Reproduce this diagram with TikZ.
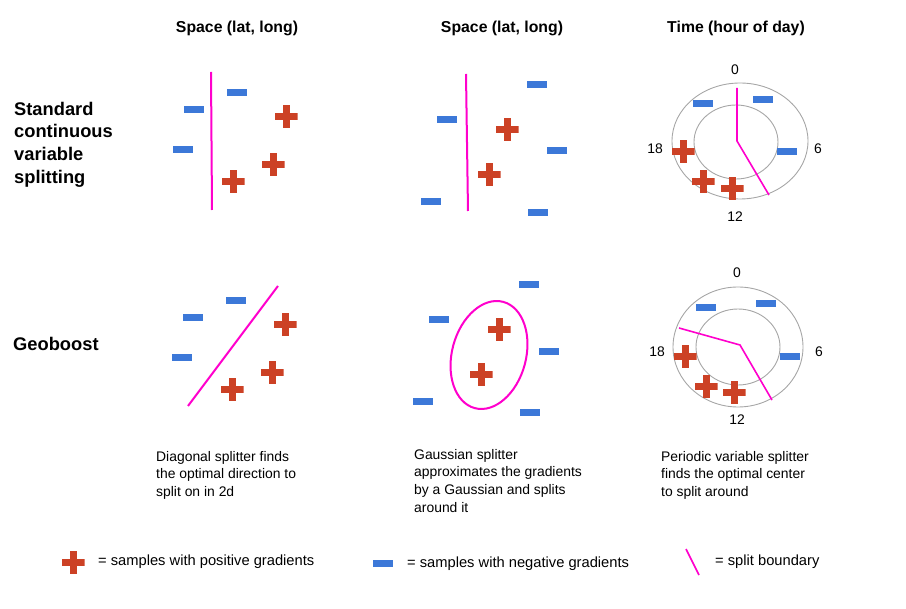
\documentclass[tikz,border=0pt]{standalone}
\usepackage{fontspec}
\setmainfont{Liberation Sans}
\definecolor{posred}{HTML}{CC4125}
\definecolor{negblue}{HTML}{3C78D8}
\definecolor{cutpink}{HTML}{FF00CC}
\definecolor{dialgray}{HTML}{A6A6A6}
\tikzset{
  possample/.style={minimum size=23pt, inner sep=0pt,
    path picture={\fill[posred] ([yshift=-3.5pt]path picture bounding box.west) rectangle ([yshift=3.5pt]path picture bounding box.east);
      \fill[posred] ([xshift=-3.5pt]path picture bounding box.south) rectangle ([xshift=3.5pt]path picture bounding box.north);}},
  negsample/.style={fill=negblue, minimum width=20pt, minimum height=7pt, inner sep=0pt},
  cut/.style={draw=cutpink, line width=2pt},
  dial/.style={draw=dialgray, line width=0.9pt},
  head/.style={font=\bfseries\fontsize{15.8}{19}\selectfont},
  rowlab/.style={font=\bfseries\fontsize{18.3}{22.6}\selectfont, align=left, anchor=west, inner sep=0pt},
  note/.style={font=\fontsize{13.9}{17.7}\selectfont, align=left, anchor=north west, inner sep=0pt},
  keytext/.style={font=\fontsize{14.7}{17}\selectfont, anchor=west, inner sep=0pt},
  hour/.style={font=\fontsize{13.9}{17}\selectfont}
}
\begin{document}
\begin{tikzpicture}[x=1pt,y=-1pt]
\useasboundingbox (0,0) rectangle (906,609);

\node[head] (spacea) at (237,28) {Space (lat, long)};
\node[head] (spaceb) at (502,28) {Space (lat, long)};
\node[head] (time) at (736,28) {Time (hour of day)};

\node[rowlab] (standard) at (14,144.5) {Standard\\continuous\\variable\\splitting};
\node[rowlab] (geoboost) at (13,344) {Geoboost};

\draw[cut] (211,72) -- (212,210);
\node[negsample] (aneg1) at (237,93) {};
\node[negsample] (aneg2) at (194,110) {};
\node[negsample] (aneg3) at (183,150) {};
\node[possample] (apos1) at (286,117) {};
\node[possample] (apos2) at (273,165) {};
\node[possample] (apos3) at (233,182) {};

\draw[cut] (466,74) -- (468,211);
\node[negsample] (bneg1) at (447,120) {};
\node[negsample] (bneg2) at (537,85) {};
\node[negsample] (bneg3) at (557,151) {};
\node[negsample] (bneg4) at (431,202) {};
\node[negsample] (bneg5) at (538,213) {};
\node[possample] (bpos1) at (507,130) {};
\node[possample] (bpos2) at (489,175) {};

\coordinate (cmid) at (737,141);
\draw[dial] (740,141) ellipse [x radius=68pt, y radius=58pt];
\draw[dial] (736,142) ellipse [x radius=42pt, y radius=37pt];
\node[hour] (ctop) at (735,70) {0};
\node[hour] (cright) at (818,149) {6};
\node[hour] (cbot) at (735,217) {12};
\node[hour] (cleft) at (655,149) {18};
\draw[cut, line width=1.6pt] (737,88) -- (cmid) -- (769,195);
\node[negsample] (cneg1) at (703,104) {};
\node[negsample] (cneg2) at (763,100) {};
\node[negsample] (cneg3) at (787,152) {};
\node[possample] (cpos1) at (683,152) {};
\node[possample] (cpos2) at (703,182) {};
\node[possample] (cpos3) at (732,189) {};

\draw[cut] (188,406) -- (278,286);
\node[negsample] (dneg1) at (236,301) {};
\node[negsample] (dneg2) at (193,318) {};
\node[negsample] (dneg3) at (182,358) {};
\node[possample] (dpos1) at (285,325) {};
\node[possample] (dpos2) at (272,373) {};
\node[possample] (dpos3) at (232,390) {};

\draw[cut, rotate around={-15:(489,355)}] (489,355) ellipse [x radius=37pt, y radius=55pt];
\node[negsample] (eneg1) at (439,320) {};
\node[negsample] (eneg2) at (529,285) {};
\node[negsample] (eneg3) at (549,352) {};
\node[negsample] (eneg4) at (423,402) {};
\node[negsample] (eneg5) at (530,413) {};
\node[possample] (epos1) at (499,330) {};
\node[possample] (epos2) at (481,375) {};

\coordinate (fmid) at (740,345);
\draw[dial] (738,347) ellipse [x radius=65pt, y radius=60pt];
\draw[dial] (738,347) ellipse [x radius=42pt, y radius=38pt];
\node[hour] (ftop) at (737,273) {0};
\node[hour] (fright) at (819,352) {6};
\node[hour] (fbot) at (737,420) {12};
\node[hour] (fleft) at (657,352) {18};
\draw[cut, line width=1.6pt] (679,328) -- (fmid) -- (772,400);
\node[negsample] (fneg1) at (706,308) {};
\node[negsample] (fneg2) at (766,304) {};
\node[negsample] (fneg3) at (790,357) {};
\node[possample] (fpos1) at (685,357) {};
\node[possample] (fpos2) at (706,387) {};
\node[possample] (fpos3) at (734,393) {};

\node[note] (diagnote) at (156,451) {Diagonal splitter finds\\the optimal direction to\\split on in 2d};
\node[note] (gaussnote) at (414,449) {Gaussian splitter\\approximates the gradients\\by a Gaussian and splits\\around it};
\node[note] (periodnote) at (661,451) {Periodic variable splitter\\finds the optimal center\\to split around};

\node[possample] (keypos) at (73,563) {};
\node[keytext] (keypostext) at (98,562) {= samples with positive gradients};
\node[negsample] (keyneg) at (383,564) {};
\node[keytext] (keynegtext) at (407,564) {= samples with negative gradients};
\coordinate (keycuttop) at (686,549);
\coordinate (keycutbot) at (699,575);
\draw[cut, line width=1.6pt] (keycuttop) -- (keycutbot);
\node[keytext] (keycuttext) at (715,562) {= split boundary};
\end{tikzpicture}
\end{document}
